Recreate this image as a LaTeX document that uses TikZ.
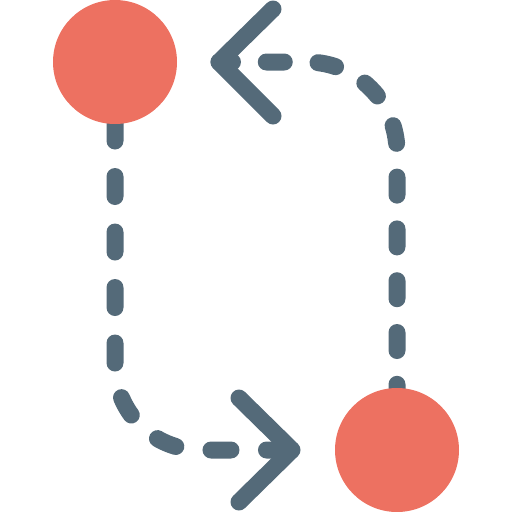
\documentclass[tikz,border=0pt]{standalone}
\usetikzlibrary{backgrounds}
\definecolor{slate}{HTML}{546A79}
\definecolor{coral}{HTML}{ED7161}
\begin{document}
\begin{tikzpicture}[x=1pt,y=-1pt,
  dot/.style={circle,fill=coral,minimum size=124pt,inner sep=0pt},
  link/.style={draw=slate,line width=17pt,line cap=round,line join=round}]
\useasboundingbox (0,0) rectangle (512,512);
\node[dot] (a) at (115,62) {};
\node[dot] (b) at (397,450) {};
\coordinate (tipB) at (292,450);
\coordinate (tipA) at (219,62);
\coordinate (b1) at (239,398);
\coordinate (b2) at (239,502);
\coordinate (a1) at (273,9);
\coordinate (a2) at (273,116);
\begin{pgfonlayer}{background}
\draw[link, dash pattern=on 20pt off 35.5pt, dash phase=52pt]
  (a.center) -- (115,365) arc[start angle=180,end angle=90,radius=85] -- (tipB);
\draw[link, dash pattern=on 18pt off 33.8pt, dash phase=4.1pt]
  (b.center) -- (397,152) arc[start angle=0,end angle=-90,radius=90] -- (tipA);
\end{pgfonlayer}
\draw[link] (b1) -- (tipB) -- (b2);
\draw[link] (a1) -- (tipA) -- (a2);
\end{tikzpicture}
\end{document}
